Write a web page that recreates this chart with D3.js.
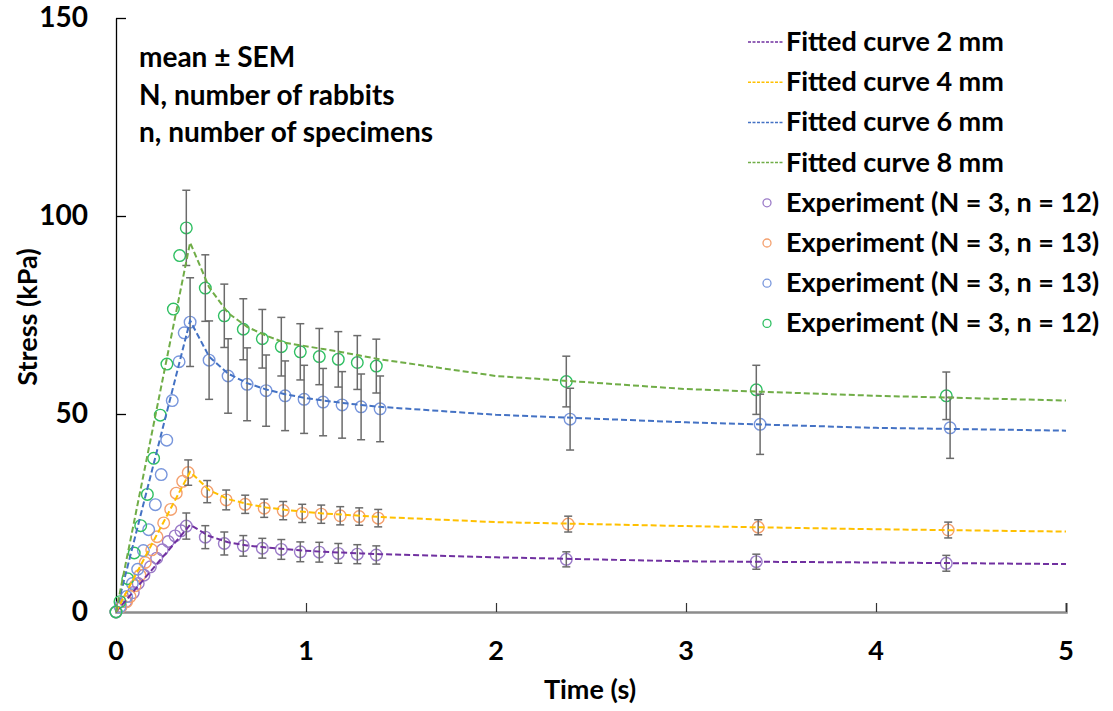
<!DOCTYPE html>
<html>
<head>
<meta charset="utf-8">
<script src="https://cdn.jsdelivr.net/npm/d3@7"></script>
<style>
  html, body { margin: 0; padding: 0; background: #ffffff; }
  svg text { font-family: Lato, "Open Sans", sans-serif; font-weight: 700; fill: #000; }
</style>
</head>
<body>
<svg id="chart" width="1113" height="711"></svg>
<script>
// ---- Axis ticks ----
const xTicks = [0, 1, 2, 3, 4, 5];
const yTicks = [0, 50, 100, 150];

// ---- Experiment: 2 mm (N = 3, n = 12) ----
const t2 = [0, 0.026, 0.051, 0.091, 0.117, 0.147, 0.181, 0.214, 0.244, 0.275, 0.311, 0.342, 0.37,
            0.47, 0.57, 0.67, 0.77, 0.87, 0.97, 1.07, 1.17, 1.27, 1.37, 2.37, 3.37, 4.37];
const mean2 = [0, 1.3, 2.6, 4.9, 7.2, 9.3, 11.4, 13.6, 15.7, 17.8, 19.2, 20.5, 21.7,
               18.9, 17.3, 16.7, 16.1, 15.8, 15.2, 15.1, 14.8, 14.6, 14.4, 13.3, 12.7, 12.3];
const sem2 = [null, null, null, null, null, null, null, null, null, null, null, null, 3.3,
              2.9, 2.9, 2.6, 2.5, 2.5, 2.5, 2.5, 2.5, 2.4, 2.3, 1.9, 1.9, 2.0];

// ---- Experiment: 4 mm (N = 3, n = 13) ----
const t4 = [0, 0.026, 0.056, 0.074, 0.100, 0.126, 0.154, 0.188, 0.216, 0.251, 0.288, 0.317, 0.351, 0.38,
            0.48, 0.58, 0.68, 0.78, 0.88, 0.98, 1.08, 1.18, 1.28, 1.38, 2.38, 3.38, 4.38];
const mean4 = [0, 1.3, 2.6, 3.9, 6.6, 9.3, 12.5, 15.7, 19.0, 22.5, 25.9, 30.0, 33.0, 35.2,
               30.4, 28.3, 27.2, 26.2, 25.6, 24.9, 24.7, 24.3, 24.1, 23.7, 22.2, 21.4, 20.7];
const sem4 = [null, null, null, null, null, null, null, null, null, null, null, null, null, 3.2,
              2.8, 2.5, 2.3, 2.3, 2.3, 2.3, 2.3, 2.3, 2.2, 2.2, 2.0, 1.9, 2.0];

// ---- Experiment: 6 mm (N = 3, n = 13) ----
const t6 = [0, 0.021, 0.056, 0.086, 0.114, 0.144, 0.172, 0.207, 0.238, 0.267, 0.296, 0.332, 0.359, 0.39,
            0.49, 0.59, 0.69, 0.79, 0.89, 0.99, 1.09, 1.19, 1.29, 1.39, 2.39, 3.39, 4.39];
const mean6 = [0, 1.3, 3.9, 7.2, 10.8, 15.5, 20.8, 27.1, 34.7, 43.4, 53.4, 63.2, 70.5, 73.2,
               63.6, 59.6, 57.5, 55.9, 54.6, 53.7, 53.0, 52.3, 51.8, 51.3, 48.7, 47.4, 46.5];
const sem6 = [null, null, null, null, null, null, null, null, null, null, null, null, null, 11.2,
              9.9, 9.4, 9.2, 9.0, 8.8, 8.6, 8.5, 8.4, 8.3, 8.3, 7.8, 7.6, 7.7];

// ---- Experiment: 8 mm (N = 3, n = 12) ----
const t8 = [0, 0.021, 0.062, 0.096, 0.130, 0.165, 0.198, 0.233, 0.268, 0.302, 0.335, 0.37,
            0.47, 0.57, 0.67, 0.77, 0.87, 0.97, 1.07, 1.17, 1.27, 1.37, 2.37, 3.37, 4.37];
const mean8 = [0, 2.6, 8.4, 14.9, 21.8, 29.7, 38.8, 49.7, 62.6, 76.5, 90.0, 97.0,
               81.8, 74.8, 71.4, 69.0, 67.0, 65.7, 64.5, 63.8, 63.0, 62.1, 58.2, 56.1, 54.6];
const sem8 = [null, null, null, null, null, null, null, null, null, null, null, 9.5,
              8.4, 8.0, 7.7, 7.4, 7.4, 7.1, 7.1, 7.0, 6.8, 6.8, 6.4, 6.2, 6.0];

// ---- Fitted curves (shared time base) ----
const tFit = [0, 0.39, 0.49, 0.59, 0.69, 0.79, 0.89, 0.99, 1.09, 1.19, 1.29, 1.39, 2, 3, 4, 5];
const fit2 = [0, 22.0, 19.2, 17.6, 16.8, 16.3, 15.9, 15.5, 15.2, 15.0, 14.8, 14.6, 13.8, 12.8, 12.5, 12.1];
const fit4 = [0, 35.4, 30.8, 28.5, 27.3, 26.4, 25.8, 25.3, 24.9, 24.6, 24.3, 24.0, 22.7, 21.7, 20.9, 20.3];
const fit6 = [0, 73.6, 64.5, 60.2, 57.8, 56.2, 55.0, 54.1, 53.4, 52.8, 52.3, 51.8, 49.8, 47.9, 46.5, 45.8];
const fit8 = [0, 93.3, 82.0, 75.5, 72.0, 69.8, 68.0, 67.2, 66.4, 65.6, 64.7, 63.8, 59.6, 56.3, 54.6, 53.4];

// ---- Labels ----
const fitLabels = ["Fitted curve 2 mm", "Fitted curve 4 mm", "Fitted curve 6 mm", "Fitted curve 8 mm"];
const expLabels = ["Experiment (N = 3, n = 12)", "Experiment (N = 3, n = 13)",
                   "Experiment (N = 3, n = 13)", "Experiment (N = 3, n = 12)"];
const noteLines = ["mean \u00B1 SEM", "N, number of rabbits", "n, number of specimens"];

const lineColors = ["#7030A0", "#FFC000", "#4472C4", "#70AD47"];
const markerColors = ["#9B7BC8", "#F4A06E", "#7896DC", "#2FBF62"];

const experiments = [
  { t: t2, m: mean2, s: sem2 },
  { t: t4, m: mean4, s: sem4 },
  { t: t6, m: mean6, s: sem6 },
  { t: t8, m: mean8, s: sem8 }
];
const fits = [fit2, fit4, fit6, fit8];

// ---- Scales ----
const svg = d3.select("#chart");
const x = d3.scaleLinear().domain([0, 5]).range([116, 1066]);
const y = d3.scaleLinear().domain([0, 150]).range([612, 18]);

// ---- Axes ----
const xAxis = svg.append("g").attr("transform", `translate(0,${y(0)})`)
  .call(d3.axisTop(x).tickValues(xTicks).tickSize(9).tickFormat(""));
xAxis.select(".domain").attr("stroke", "#8c8c8c").attr("stroke-width", 2.5);
xAxis.selectAll(".tick line").attr("stroke", "#333").attr("stroke-width", 1.2);
xAxis.selectAll(".tick").filter(d => d === 0).remove();

svg.selectAll(".xlab").data(xTicks).join("text")
  .attr("x", d => x(d)).attr("y", 660)
  .attr("text-anchor", "middle").style("font-size", "27px")
  .text(d => d);

const yAxis = svg.append("g").attr("transform", `translate(${x(0)},0)`)
  .call(d3.axisRight(y).tickValues(yTicks).tickSize(10).tickFormat("").tickSizeOuter(0));
yAxis.select(".domain").attr("stroke", "#000").attr("stroke-width", 1.3);
yAxis.selectAll(".tick line").attr("stroke", "#000").attr("stroke-width", 1.3);
yAxis.selectAll(".tick").filter(d => d === 0).remove();

svg.selectAll(".ylab").data(yTicks).join("text")
  .attr("x", 88).attr("y", d => y(d) + 9)
  .attr("text-anchor", "end").style("font-size", "28px")
  .text(d => d);

svg.append("text")
  .attr("transform", `translate(37,317) rotate(-90)`)
  .attr("text-anchor", "middle").style("font-size", "27px")
  .text("Stress (kPa)");

svg.append("text")
  .attr("x", 590).attr("y", 699)
  .attr("text-anchor", "middle").style("font-size", "27px")
  .text("Time (s)");

// ---- Experiment markers ----
experiments.forEach((e, i) => {
  const pts = e.t.map((t, k) => ({ t, m: e.m[k], s: e.s[k] }));
  svg.append("g").selectAll("circle").data(pts).join("circle")
    .attr("cx", d => x(d.t)).attr("cy", d => y(d.m)).attr("r", 5.8)
    .attr("fill", "none").attr("stroke", markerColors[i]).attr("stroke-width", 1.4);
});

// ---- Error bars (mean ± SEM) ----
experiments.forEach((e) => {
  const pts = e.t.map((t, k) => ({ t, m: e.m[k], s: e.s[k] })).filter(d => d.s != null);
  const g = svg.append("g").attr("stroke", "#6b6b6b").attr("stroke-width", 1.5);
  g.selectAll(".v").data(pts).join("line")
    .attr("x1", d => x(d.t)).attr("x2", d => x(d.t))
    .attr("y1", d => y(d.m - d.s)).attr("y2", d => y(d.m + d.s));
  g.selectAll(".top").data(pts).join("line")
    .attr("x1", d => x(d.t) - 4).attr("x2", d => x(d.t) + 4)
    .attr("y1", d => y(d.m + d.s)).attr("y2", d => y(d.m + d.s));
  g.selectAll(".bot").data(pts).join("line")
    .attr("x1", d => x(d.t) - 4).attr("x2", d => x(d.t) + 4)
    .attr("y1", d => y(d.m - d.s)).attr("y2", d => y(d.m - d.s));
});

// ---- Fitted curves ----
const line = d3.line().x(d => x(d[0])).y(d => y(d[1]));
fits.forEach((f, i) => {
  svg.append("path")
    .datum(tFit.map((t, k) => [t, f[k]]))
    .attr("d", line)
    .attr("fill", "none").attr("stroke", lineColors[i])
    .attr("stroke-width", 2).attr("stroke-dasharray", "6,3");
});

// ---- Annotation ----
svg.selectAll(".note").data(noteLines).join("text")
  .attr("x", 139).attr("y", (d, i) => 67 + i * 37.5)
  .style("font-size", "28px")
  .text(d => d);

// ---- Legend ----
const rowY = i => 42 + i * 40.2;
const leg = svg.append("g");
fitLabels.forEach((lab, i) => {
  leg.append("line")
    .attr("x1", 748).attr("x2", 783).attr("y1", rowY(i)).attr("y2", rowY(i))
    .attr("stroke", lineColors[i]).attr("stroke-width", 1.5).attr("stroke-dasharray", "3,1.5");
  leg.append("text").attr("x", 786).attr("y", rowY(i) + 9).style("font-size", "27px").text(lab);
});
expLabels.forEach((lab, i) => {
  const r = rowY(i + 4);
  leg.append("circle").attr("cx", 767).attr("cy", r).attr("r", 4)
    .attr("fill", "none").attr("stroke", markerColors[i]).attr("stroke-width", 1.3);
  leg.append("text").attr("x", 786).attr("y", r + 9).style("font-size", "27px").text(lab);
});
</script>
</body>
</html>
